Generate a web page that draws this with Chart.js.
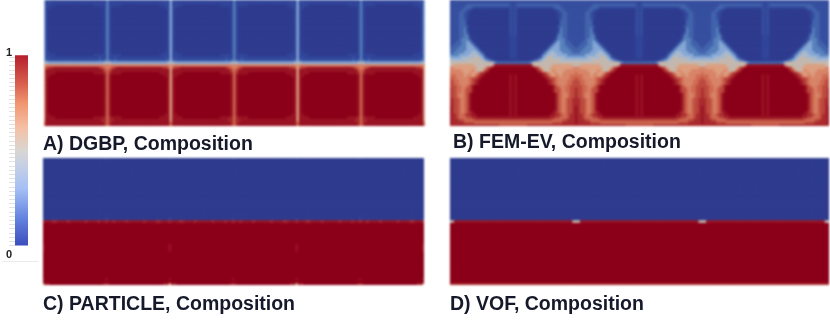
<!DOCTYPE html>
<html><head><meta charset="utf-8">
<script src="https://cdn.jsdelivr.net/npm/chart.js@4/dist/chart.umd.js"></script>
<style>
html,body{margin:0;padding:0;background:#fff;width:830px;height:329px;overflow:hidden}
.p{position:absolute}
.p canvas{display:block}
.heat canvas{filter:blur(.8px)}
.heat canvas#b{filter:blur(1.1px)}
.cap{position:absolute;font:bold 19.5px/24px "Liberation Sans";color:#15192a;white-space:nowrap;filter:blur(.3px)}
#rule{position:absolute;left:2px;top:261px;width:36px;height:1px;background:#ebebeb}
</style></head><body>
<div id="rule"></div>
<div class="p" style="left:0;top:40px"><canvas id="bar" width="28" height="225"></canvas></div>
<div class="p heat" style="left:44px;top:0"><canvas id="a" width="381" height="126"></canvas></div>
<div class="p heat" style="left:450px;top:0"><canvas id="b" width="379" height="126"></canvas></div>
<div class="p heat" style="left:43px;top:158px"><canvas id="c" width="381" height="127"></canvas></div>
<div class="p heat" style="left:450px;top:158px"><canvas id="d" width="379" height="127"></canvas></div>
<div class="cap" id="ta" style="left:43px;top:131px"></div>
<div class="cap" id="tb" style="left:453px;top:129px"></div>
<div class="cap" id="tc" style="left:43px;top:291px"></div>
<div class="cap" id="td" style="left:450px;top:291px"></div>
<script>
// Composition, low to high: 0 a 1 b 2 3 4 5 6 e 7 d 8 c 9.
// Each row holds half of one repeat: column 0 is a tile edge, the last column the tile centre.
const dgbpRows = [
"3a1aaaaaaaaaaaaaaaaaaaa1a2",
"3a1aaaaaaaaaaaaaaaaaaaaaa2",
"3aaaa000000000000000aaaaa2",
"3aa000000000000000000000a2",
"3a0000000000000000000000a2",
"3a0000000000000000000000a2",
"3a0000000000000000000000a2",
"3a0000000000000000000000a2",
"3a0000000000000000000000a2",
"3a0000000000000000000000a2",
"3a0000000000000000000000a2",
"3a0000000000000000000000a2",
"3a0000000000000000000000a2",
"3a0000000000000000000000a2",
"3a0000000000000000000000a2",
"3a0000000000000000000000a2",
"3a0000000000000000000000a2",
"3a0000000000000000000000a2",
"3a0000000000000000000000a2",
"3a0000000000000000000000a2",
"3aa000000000000000000000a2",
"3aaaa000000000000000aaaaa2",
"3a1aaaaaaaaaaaaaaaaaaa1aa2",
"3b11111111111111111111b1b2",
"44333333333333333333333344",
"6eeeeeeeeeeeeeeeeeeeeeeeee",
"6d88cccccccccccccccccc8d7e",
"6cccccccccccccccccccccccd7",
"6cccc999999999999999cccc87",
"6cc999999999999999999999c7",
"6c9999999999999999999999c7",
"6c9999999999999999999999c7",
"6c9999999999999999999999c7",
"6c9999999999999999999999c7",
"6c9999999999999999999999c7",
"6c9999999999999999999999c7",
"6c9999999999999999999999c7",
"6c9999999999999999999999c7",
"6c9999999999999999999999c7",
"6c9999999999999999999999c7",
"6c9999999999999999999999c7",
"6c9999999999999999999999c7",
"6c9999999999999999999999c7",
"6c9999999999999999999999c7",
"6cc999999999999999999999c7",
"6cccc999999999999999cccc87",
"6cccccccccccccccccccccc887",
"7ccccccccccccccccccccccc87",
"7ccccccccccccccccccccccc87"];
const femRows = [
"11111111111111111111111111",
"1111111111111111111111111a",
"1111111bbbbbbbbbbbbbbbbb1a",
"111111bbb1aaaaaaaaaaaaaa1a",
"11111bb1a0000000000000001a",
"1111bb1a00000000000000001a",
"1111bb1a00000000000000001a",
"1111bb1a00000000000000001a",
"1111bbb000000000000000001a",
"1111bbb000000000000000001a",
"1111bbb100000000000000001a",
"1111bb2a00000000000000001a",
"1111bb2a00000000000000001a",
"1111bb2b00000000000000001a",
"1111bb22a000000000000000aa",
"1111b2221000000000000000aa",
"111bb2232a00000000000000aa",
"11bbb22332a0000000000000aa",
"1bbb2223332a000000000000aa",
"bbb222233332a00000000000aa",
"bb22223334432a0000000000aa",
"22223333444432a000000000aa",
"33333444445543ba00000000aa",
"4444444555555432ba00000000",
"5555555555555555542bbbbbbb",
"55666666665555555ecccccccc",
"ee6666666665556d8999999999",
"eeeee6666e6556d89999999999",
"7eeeee66e66ed8c99999999999",
"777eee6ee6ed8c9999999999c9",
"d77eeeee7dd8c99999999999c9",
"dd77eeee7d8c999999999999c9",
"dd77eeee7d8c999999999999c9",
"ddd77ee7dc99999999999999c9",
"8dd77e7ddc99999999999999c9",
"8dd77e7ddc99999999999999c9",
"8dd7ee7dc999999999999999c9",
"8dd7ee7dc999999999999999c9",
"88dd7e7dc999999999999999c9",
"88dd7e7dc999999999999999c9",
"88dd7e7dc999999999999999c9",
"c8dd7e7dc999999999999999c9",
"c8dd7e7dc999999999999999c9",
"c8dd7e7d8c99999999999999c9",
"c88d77d88cc9999999999999c9",
"c88d777dd88ccccccccccccccc",
"c888dd7777dddddddddddddddd",
"c88888dddd7777777777777777",
"88888888888888888888dddddd"];
const blueRow = "00000000000000000000000000";
const redRow  = "99999999999999999999999999";
const particleRows = [
"a000000000000000000000000a",
...Array(22).fill(blueRow),
"a000000000000000000000000a",
"8ccc88cccc8cccccc8cccc8cc8",
...Array(8).fill(redRow),
"c9999999999999999999999999",
"c9999999999999999999999999",
"c9999999999999999999999999",
...Array(10).fill(redRow),
"c999999999999999999999999c",
redRow,
"6c8999999999999999999999c8"];
const vofRows = [
...Array(24).fill(blueRow),
"55cccccccccccccccccccccccc",
...Array(23).fill(redRow),
"88888888888888888888888888"];
const panelTitles = ["A) DGBP, Composition","B) FEM-EV, Composition","C) PARTICLE, Composition","D) VOF, Composition"];
const tileColumns = 50;
const tileCount = 3;

const levelColors = {"0":"#2e3b8e","a":"#31459a","1":"#364f9f","b":"#4263ac","2":"#5880bc","3":"#86a8d6","4":"#aab9cc","5":"#c4b8ae","6":"#dc9f80","e":"#d88468","7":"#cf6a52","d":"#bd4a3e","8":"#aa2a2e","c":"#991424","9":"#8b0019"};

const barValue = [[0,1]];
const barStops = [0,0.15,0.3,0.42,0.5,0.62,0.75,0.85,1];
const barColors = ["#3a4dbd","#6685e0","#a5c0f5","#c5d0e5","#d9d6d2","#f5c0a5","#f0956f","#d9604f","#b5202c"];
const barTickValues = [-0.05,0,0.022,0.044,0.066,0.088,0.11,0.132,0.154,0.176,0.198,0.22,0.242,0.264,0.286,0.308,0.33,0.352,0.374,0.396,0.418,0.44,0.462,0.484,0.506,0.528,0.55,0.572,0.594,0.616,0.638,0.66,0.682,0.704,0.726,0.748,0.77,0.792,0.814,0.836,0.858,0.88,0.902,0.924,0.946,0.968,0.99,1.012];
const barTickLabels = {"-0.05":"0","1.012":"1"};

function panel(id,rows,titleId,title,rowStart){
  document.getElementById(titleId).textContent=title;
  const pts=[],cols=[];
  const last=tileColumns*tileCount;
  rows.forEach((row,j)=>{
    for(let k=0;k<=last;k++){
      const p=k%tileColumns, c=p<=tileColumns/2?p:tileColumns-p;
      pts.push({x:k,y:j});
      cols.push(levelColors[row[Math.min(c,row.length-1)]]);
    }
  });
  new Chart(document.getElementById(id),{
    type:'scatter',
    data:{datasets:[{data:pts,pointStyle:'rect',pointRadius:2.6,pointBorderWidth:0,pointBackgroundColor:cols,clip:0}]},
    options:{responsive:false,animation:false,events:[],devicePixelRatio:1,
      layout:{padding:0,autoPadding:false},
      scales:{x:{type:'linear',display:false,min:-0.2,max:last},
              y:{type:'linear',display:false,min:rowStart,max:rows.length-1,reverse:true}},
      plugins:{legend:{display:false},tooltip:{enabled:false},title:{display:false}}}
  });
}
panel('a',dgbpRows,'ta',panelTitles[0],-0.25);
panel('b',femRows,'tb',panelTitles[1],-0.25);
panel('c',particleRows,'tc',panelTitles[2],-0.5);
panel('d',vofRows,'td',panelTitles[3],-0.5);

new Chart(document.getElementById('bar'),{
  type:'bar',
  data:{labels:['composition'],datasets:[{data:barValue,barPercentage:1,categoryPercentage:1,borderWidth:0,
    backgroundColor(ctx){
      const {chart}=ctx; if(!chart.chartArea) return barColors[0];
      const y=chart.scales.y, g=chart.ctx.createLinearGradient(0,y.getPixelForValue(0),0,y.getPixelForValue(1));
      barStops.forEach((s,i)=>g.addColorStop(s,barColors[i]));
      return g;
    }}]},
  options:{responsive:false,animation:false,events:[],devicePixelRatio:1,
    layout:{padding:{top:8,bottom:8,left:0,right:0}},
    scales:{
      x:{display:false},
      y:{min:-0.06,max:1.04,
        afterFit(s){s.width=15;},
        afterBuildTicks(s){s.ticks=barTickValues.map(v=>({value:v}));},
        border:{display:false},
        grid:{drawOnChartArea:false,drawTicks:true,tickLength:6,tickWidth:1,
          tickColor(c){return barTickLabels[String(c.tick.value)]?'rgba(0,0,0,0)':'#e2e2e2';}},
        ticks:{autoSkip:false,padding:-3,color:'#222',font:{family:'"Liberation Sans"',size:11,weight:'bold'},
          callback(v){return barTickLabels[String(v)]||'';}}
      }},
    plugins:{legend:{display:false},tooltip:{enabled:false},title:{display:false}}}
});
</script></body></html>
